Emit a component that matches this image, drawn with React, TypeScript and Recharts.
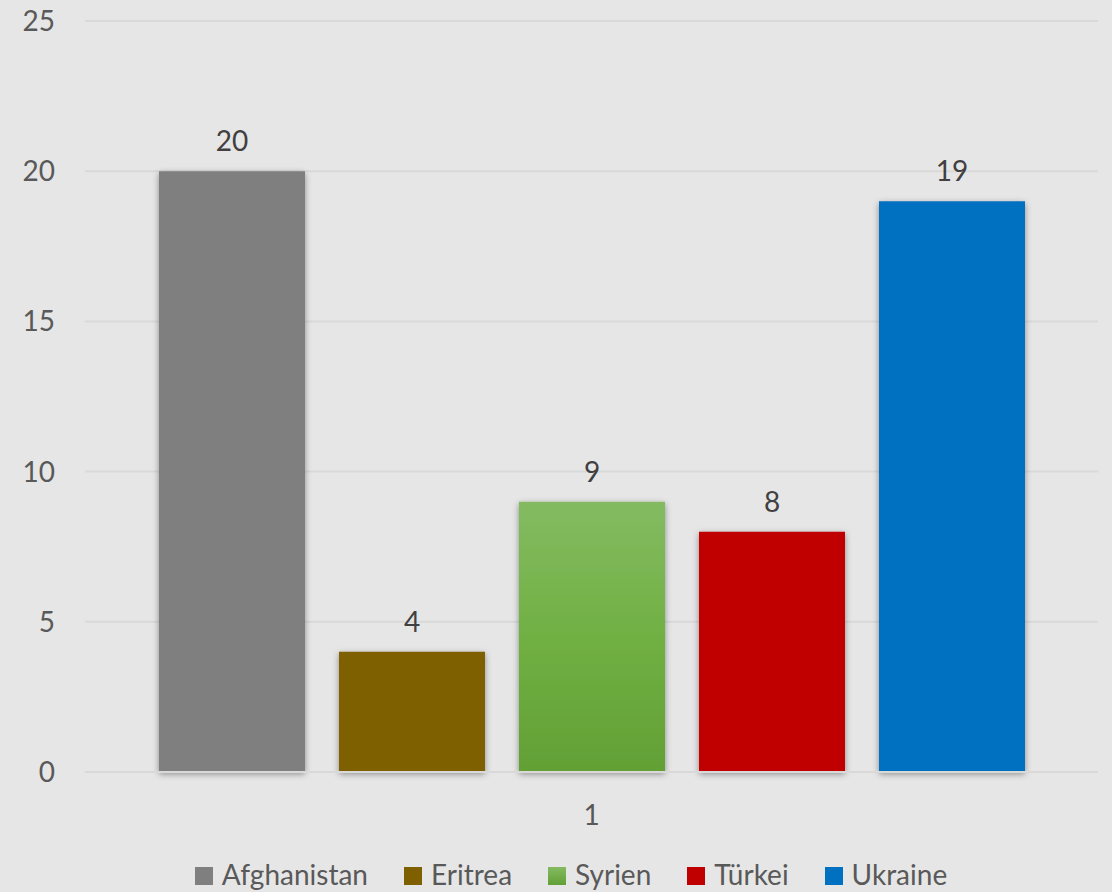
import { Bar, BarChart, CartesianGrid, LabelList, Legend, XAxis, YAxis } from 'recharts';

const categories = ['1'];
const seriesNames = ['Afghanistan', 'Eritrea', 'Syrien', 'Türkei', 'Ukraine'];
const seriesValues = [20, 4, 9, 8, 19];
const yTicks = [0, 5, 10, 15, 20, 25];

const colors: Record<string, string> = {
  Afghanistan: '#7f7f7f',
  Eritrea: '#7f6000',
  Syrien: 'url(#syrienFill)',
  Türkei: '#c00000',
  Ukraine: '#0070c0',
};

const data = categories.map((c) => {
  const row: Record<string, string | number> = { name: c };
  seriesNames.forEach((s, i) => {
    row[s] = seriesValues[i];
  });
  return row;
});

const FONT = 'Lato, "Open Sans", sans-serif';

function LegendContent() {
  return (
    <div style={{ display: 'flex', justifyContent: 'center', alignItems: 'center', height: 40, paddingTop: 4, paddingLeft: 44, boxSizing: 'border-box', fontFamily: FONT, fontSize: 28, color: '#595959', lineHeight: '30px' }}>
      {seriesNames.map((s) => (
        <div key={s} style={{ display: 'flex', alignItems: 'center', margin: '0 18px' }}>
          <span style={{ display: 'inline-block', width: 18, height: 18, marginTop: 4, background: s === 'Syrien' ? 'linear-gradient(#84bb62, #62a035)' : colors[s], marginRight: 9 }} />
          <span>{s}</span>
        </div>
      ))}
    </div>
  );
}

export default function App() {
  return (
    <div style={{ position: 'absolute', left: 0, top: 0, width: 1112, height: 892, background: '#e6e6e6', overflow: 'hidden' }}>
      <BarChart width={1112} height={892} data={data} margin={{ top: 21, right: 14, bottom: 0, left: 0 }} barGap={34}>
        <defs>
          <linearGradient id="syrienFill" x1="0" y1="0" x2="0" y2="1">
            <stop offset="0%" stopColor="#84bb62" />
            <stop offset="50%" stopColor="#70b043" />
            <stop offset="100%" stopColor="#62a035" />
          </linearGradient>
          <filter id="barShadow" x="-10%" y="-10%" width="120%" height="120%">
            <feDropShadow dx="0" dy="2" stdDeviation="3" floodColor="#000" floodOpacity="0.4" />
          </filter>
        </defs>
        <CartesianGrid vertical={false} stroke="#d9d9d9" strokeWidth={2} />
        <XAxis
          dataKey="name"
          height={80}
          tickLine={false}
          axisLine={{ stroke: '#d9d9d9', strokeWidth: 2 }}
          tickMargin={27}
          tick={{ fill: '#595959', fontSize: 28, fontFamily: FONT }}
        />
        <YAxis
          domain={[0, 25]}
          ticks={yTicks}
          width={85}
          tickLine={false}
          axisLine={false}
          tickMargin={24}
          tick={{ fill: '#595959', fontSize: 28, fontFamily: FONT }}
        />
        <Legend verticalAlign="bottom" height={40} content={<LegendContent />} />
        {seriesNames.map((s) => (
          <Bar key={s} dataKey={s} fill={colors[s]} barSize={146} filter="url(#barShadow)" isAnimationActive={false}>
            <LabelList dataKey={s} position="top" offset={20} fill="#404040" fontSize={28} fontFamily={FONT} />
          </Bar>
        ))}
      </BarChart>
    </div>
  );
}
